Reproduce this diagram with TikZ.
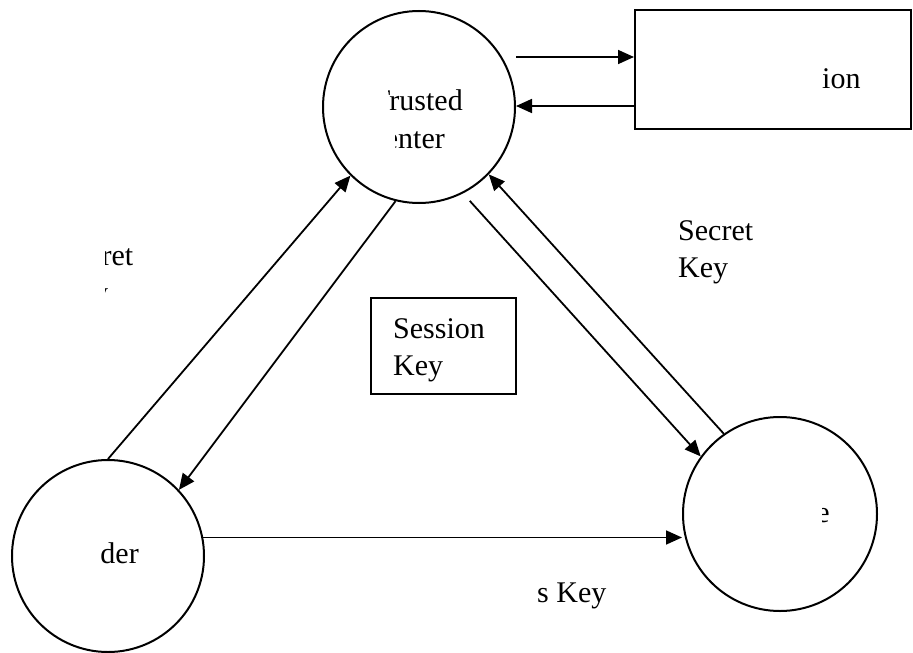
\documentclass[tikz,border=0pt]{standalone}
\usepackage{fontspec}
\setmainfont{Liberation Serif}
\usetikzlibrary{arrows.meta,calc}
\begin{document}
\begin{tikzpicture}[x=1pt,y=-1pt,
  every node/.style={font=\fontsize{30}{37}\selectfont},
  party/.style={draw,circle,line width=2pt,minimum size=#1,inner sep=0pt},
  framebox/.style={draw,rectangle,line width=2pt,inner sep=0pt},
  lbl/.style={inner sep=0pt,anchor=base west},
  rlbl/.style={inner sep=0pt,anchor=base east},
  arr/.style={line width=1.8pt,-{Triangle[length=16pt,width=14pt]}}]
\useasboundingbox (0,0) rectangle (913,653);

% parties
\node[party=192pt] (tc)  at (419,107) {};
\node[party=192pt] (snd) at (108,556) {};
\node[party=194pt] (rcv) at (780,514) {};

% boxes
\node[framebox,minimum width=276pt,minimum height=119pt] (auth) at (773,69.5) {};
\node[framebox,minimum width=145pt,minimum height=96pt] (sk) at (443.5,346) {};

% labels
\node[lbl] (sess1) at (393,338) {Session};
\node[lbl] (sess2) at (393,375) {Key};
\node[lbl] (sec1) at (678,240) {Secret};
\node[lbl] (sec2) at (678,277) {Key};
\node[lbl] (skey) at (537,602) {s Key};
\node[lbl] (ion) at (822,88) {ion};

% partly covered labels
\begin{scope}
  \clip (388,78) rectangle (480,118) (395,118) rectangle (480,160);
  \node[rlbl] (tc1) at (463,110) {Trusted};
  \node[rlbl] (tc2) at (445,148) {Center};
\end{scope}
\begin{scope}
  \clip (105,230) rectangle (160,320);
  \node[lbl] (ls1) at (58,265) {Secret};
  \node[lbl] (ls2) at (58,302) {Key};
\end{scope}
\begin{scope}
  \clip (100,530) rectangle (160,580);
  \node[rlbl] (sn) at (139,563) {Sender};
\end{scope}
\begin{scope}
  \clip (822,500) rectangle (840,530);
  \node[rlbl] (rc) at (830,522) {e};
\end{scope}

% connectors
\coordinate (ua) at ([yshift=12.5pt]auth.west);
\coordinate (la) at ([yshift=-36.5pt]auth.west);
\draw[arr] (tc.east |- ua) -- (ua);
\draw[arr] (la) -- (tc.east |- la);

\draw[arr] (snd.north) -- (tc.225);
\draw[arr] (tc.256) -- (snd.43);

\draw[arr,shorten <=10pt] (tc.297) -- (rcv.144);
\draw[arr] (rcv.125) -- (tc.316);

\draw[arr] (snd.11) -- (snd.11 -| rcv.west);
\end{tikzpicture}
\end{document}
